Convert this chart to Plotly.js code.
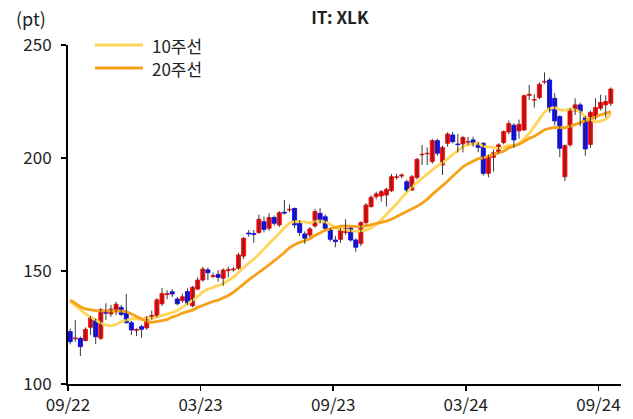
<!DOCTYPE html>
<html><head><meta charset="utf-8">
<script src="https://cdn.plot.ly/plotly-3.0.1.min.js"></script>
<style>html,body{margin:0;padding:0;background:#fff}</style>
</head><body><div id="chart" style="width:633px;height:419px"></div>
<script>
// Weekly XLK candles, first week starting 2022-09-26
const firstWeek = '2022-09-26';
const openP = [123.2,120.0,120.2,119.2,125.1,128.3,120.2,132.0,131.0,132.3,133.9,131.3,127.1,123.7,125.4,124.8,129.8,130.2,135.5,139.6,140.8,137.6,136.9,140.9,134.6,142.0,146.0,150.5,147.6,148.5,146.8,150.2,150.5,151.2,156.6,166.8,166.6,167.0,171.8,168.9,173.7,170.4,176.0,177.0,177.7,171.8,166.4,165.9,169.9,175.5,174.0,168.1,163.7,164.0,167.0,168.9,163.7,162.2,171.4,178.5,182.9,183.2,183.6,185.5,191.4,192.0,189.5,185.8,191.4,201.4,201.9,198.4,207.7,196.9,206.5,210.2,206.2,206.2,207.0,208.0,206.2,206.5,193.2,200.3,202.8,206.8,211.5,214.5,212.0,212.4,227.7,225.6,226.7,233.6,234.5,226.4,218.3,191.7,205.8,220.8,223.5,217.8,206.0,218.3,222.0,223.5,224.2];
const highP = [124.5,128.3,121.0,125.0,130.1,129.0,133.5,135.7,135.0,136.4,135.0,139.8,128.0,124.6,126.1,130.0,132.5,138.0,142.5,141.5,142.0,138.5,140.0,142.3,143.4,147.2,151.9,151.5,149.3,150.4,151.2,151.9,151.9,158.0,165.0,168.1,168.1,175.0,174.0,175.5,174.5,176.5,181.4,179.5,178.0,172.5,167.5,169.5,177.5,177.8,175.0,169.0,165.5,169.0,172.9,169.5,164.5,172.0,180.0,183.5,185.1,185.8,186.8,193.0,193.0,193.2,190.5,192.5,200.0,205.8,204.7,208.5,208.5,205.5,211.4,211.5,210.6,209.7,209.4,209.4,207.0,207.0,201.4,203.8,206.5,212.2,216.5,215.5,217.0,228.0,232.3,228.2,233.5,237.9,235.5,228.7,219.0,206.0,222.0,226.4,224.5,218.5,221.0,226.4,228.0,227.7,231.2];
const lowP = [117.5,118.7,112.4,118.9,121.7,117.7,119.5,128.3,129.8,130.5,130.0,126.8,121.7,121.2,120.5,124.0,128.5,129.5,134.5,137.5,138.5,134.8,136.0,135.0,134.0,141.6,145.3,146.0,146.8,145.3,143.4,147.2,149.7,150.5,155.3,165.2,162.5,166.5,167.0,167.8,170.0,169.5,175.0,176.0,169.0,165.5,162.0,165.0,169.2,171.0,168.5,163.0,160.5,162.5,166.0,163.0,158.5,161.0,170.5,178.0,181.7,180.7,178.5,185.0,190.5,191.0,185.0,185.5,190.5,196.9,196.9,197.5,201.0,192.5,205.0,206.5,202.4,202.5,205.8,205.0,202.5,192.2,191.4,194.0,202.0,206.0,210.5,204.5,208.5,212.0,225.7,222.3,226.0,232.8,220.0,214.5,200.4,189.8,205.0,219.0,214.0,201.0,204.5,217.0,221.0,218.0,223.0];
const closeP = [118.7,120.4,116.5,124.2,129.4,120.9,133.0,131.3,133.2,135.3,130.8,127.1,123.9,124.2,124.2,129.6,130.4,137.2,140.0,140.0,139.8,135.5,138.6,135.7,142.8,146.0,150.9,149.2,148.0,147.2,150.4,150.6,150.9,157.1,164.5,166.4,166.2,172.9,168.4,173.7,171.1,175.8,175.6,177.3,170.4,167.0,164.5,168.6,176.3,172.9,168.9,164.0,163.0,168.1,168.9,163.7,160.5,171.4,179.2,182.6,184.1,185.1,186.1,191.7,191.7,192.5,185.8,191.7,199.4,201.7,202.1,207.7,202.1,204.7,210.6,207.2,205.9,209.1,207.3,206.2,204.7,193.2,200.6,202.3,205.8,211.7,215.2,208.0,214.9,227.6,228.2,225.9,232.6,233.9,221.2,216.4,204.3,205.5,221.2,223.5,220.5,204.0,220.2,222.3,224.6,225.0,230.5];
const ma10 = [136.5,134.6,132.7,131.0,129.6,128.2,127.0,126.0,125.7,126.3,127.5,128.2,128.9,128.9,128.4,129.3,129.0,129.6,130.3,130.7,131.6,132.5,134.0,135.1,137.0,138.6,140.7,141.9,142.7,143.4,144.4,145.9,147.2,149.3,151.5,153.5,155.1,157.4,159.5,162.1,164.2,166.7,169.2,171.2,171.8,171.8,171.7,171.2,172.0,172.0,171.7,170.6,169.3,168.4,168.2,167.9,167.5,167.8,168.1,169.0,170.6,172.7,175.0,177.3,179.6,182.5,185.0,187.1,189.1,191.0,192.8,195.0,196.6,197.9,199.8,201.3,203.3,205.1,205.8,206.3,206.6,205.1,205.0,204.7,204.2,204.7,205.6,205.5,206.3,208.4,210.8,214.0,217.2,220.4,221.9,222.4,221.3,221.1,221.7,221.3,220.5,218.3,217.1,215.9,216.3,217.1,219.7];
const ma20 = [137.2,135.6,134.2,133.2,132.7,132.5,132.4,132.4,132.4,132.4,132.3,132.0,131.0,130.0,128.8,127.8,127.3,127.5,128.0,128.5,129.6,130.3,131.4,132.0,132.7,133.9,134.8,135.7,136.5,137.1,138.0,139.2,140.6,142.2,144.2,146.1,147.9,149.6,151.1,152.7,154.3,156.3,158.2,160.3,161.6,162.7,163.4,164.3,165.7,167.0,168.0,168.6,169.2,169.8,170.0,169.9,169.6,169.5,170.0,170.5,171.1,171.6,172.1,172.9,173.9,175.2,176.3,177.4,178.6,180.0,181.7,183.9,185.8,187.6,189.7,191.9,194.2,196.1,197.5,198.6,199.7,200.1,200.8,201.3,202.0,203.0,204.5,205.3,206.1,207.3,208.7,209.6,211.1,212.5,213.1,213.5,213.5,213.3,214.0,214.8,215.6,216.2,217.1,218.1,219.1,219.8,220.5];
const tickDates = ['2022-09-23','2023-03-24','2023-09-22','2024-03-22','2024-09-20'];
const tickLabels = ['09/22','03/23','09/23','03/24','09/24'];
const yTicks = [100,150,200,250];
const seriesNames = ['10주선','20주선'];

function weekDates(start, n){
  const out=[]; const t0=Date.parse(start+'T00:00:00Z');
  for(let i=0;i<n;i++){ out.push(new Date(t0+i*7*86400000).toISOString().slice(0,10)); }
  return out;
}
const dates = weekDates(firstWeek, closeP.length);

// wicks
const wx=[], wy=[];
dates.forEach((d,i)=>{ wx.push(d,d,null); wy.push(lowP[i],highP[i],null); });

const upColor='#FF0000', downColor='#0000FF';
const bodyColors = closeP.map((c,i)=> c>=openP[i]?upColor:downColor);

const traces = [
  {type:'scatter', mode:'lines', x:dates, y:ma10, line:{color:'#FFD55A', width:2.8}, hoverinfo:'skip', showlegend:false},
  {type:'scatter', mode:'lines', x:dates, y:ma20, line:{color:'#F7A11A', width:2.8}, hoverinfo:'skip', showlegend:false},
  {type:'scatter', mode:'lines', x:wx, y:wy, line:{color:'#3a3a3a', width:1}, hoverinfo:'skip', showlegend:false, connectgaps:false},
  {type:'bar', x:dates, base:openP, y:closeP.map((c,i)=>c-openP[i]), width:5.6*86400000,
   marker:{color:bodyColors, line:{color:bodyColors, width:0.8}}, showlegend:false, hoverinfo:'skip'}
];

const fnt = '"Noto Sans CJK KR", "Noto Sans", sans-serif';
const layout = {
  width:633, height:419,
  margin:{l:68, r:12, t:45, b:35},
  paper_bgcolor:'#fff', plot_bgcolor:'#fff',
  font:{family:fnt, size:16, color:'#222'},
  title:{text:'IT: XLK', x:0.537, xref:'container', y:1-18/419, yref:'container', yanchor:'middle', xanchor:'center', font:{family:fnt, size:17, color:'#222', weight:600}},
  xaxis:{type:'date', range:['2022-09-23','2024-10-21'], tickvals:tickDates, ticktext:tickLabels,
    showline:true, linecolor:'#000', linewidth:2, ticks:'outside', ticklen:5, tickwidth:1.5, tickcolor:'#000',
    showgrid:false, zeroline:false, tickfont:{size:17, family:fnt, color:'#222'}},
  yaxis:{range:[100,250], tickvals:yTicks, showline:true, linecolor:'#000', linewidth:2, ticks:'outside', ticklen:5, tickwidth:1.5, tickcolor:'#000',
    showgrid:false, zeroline:false, tickfont:{size:17, family:fnt, color:'#222'}, ticklabelstandoff:6},
  bargap:0,
  showlegend:false,
  shapes:[
    {type:'line', xref:'paper', yref:'paper', x0:(95-68)/553, x1:(143-68)/553, y0:1, y1:1, line:{color:'#FFD55A', width:2.8}},
    {type:'line', xref:'paper', yref:'paper', x0:(95-68)/553, x1:(143-68)/553, y0:1-23/339, y1:1-23/339, line:{color:'#F7A11A', width:2.8}}
  ],
  annotations:[
    {text:'(pt)', xref:'paper', yref:'paper', x:(14-68)/553, y:1+(45-18)/339, xanchor:'left', yanchor:'middle', showarrow:false, font:{size:18, family:fnt, color:'#222'}},
    {text:seriesNames[0], xref:'paper', yref:'paper', x:(150-68)/553, y:1, xanchor:'left', yanchor:'middle', showarrow:false, height:20, font:{size:17, family:fnt, color:'#222'}},
    {text:seriesNames[1], xref:'paper', yref:'paper', x:(150-68)/553, y:1-23/339, xanchor:'left', yanchor:'middle', showarrow:false, height:20, font:{size:17, family:fnt, color:'#222'}}
  ]
};
Plotly.newPlot('chart', traces, layout, {displayModeBar:false, staticPlot:true});
</script></body></html>
